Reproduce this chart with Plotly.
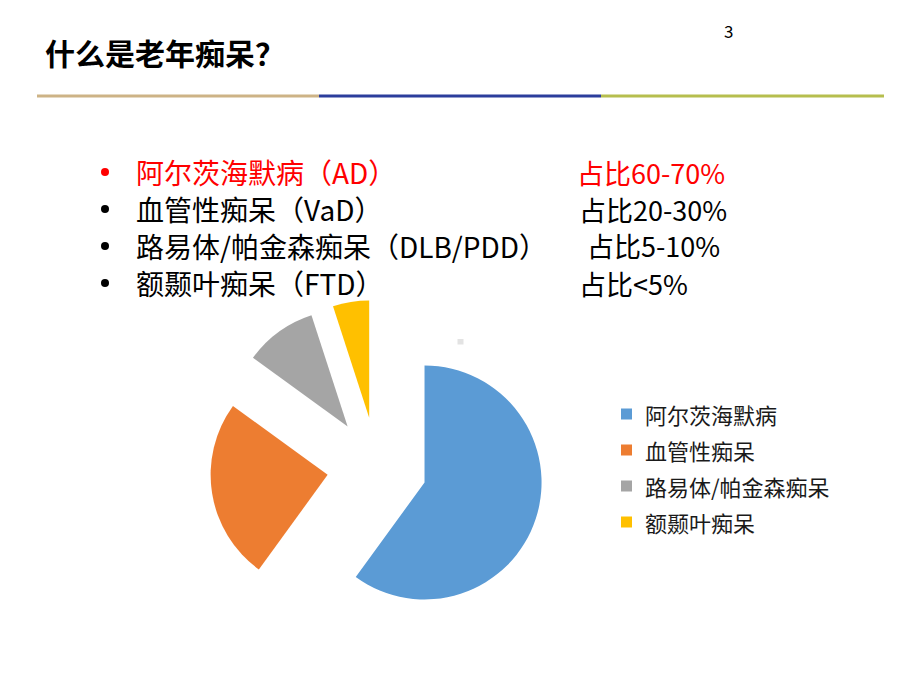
import plotly.graph_objects as go

W, H = 920, 690
OFF = 8  # page body margin in the browser

# Data
labels = ["阿尔茨海默病", "血管性痴呆", "路易体/帕金森痴呆", "额颞叶痴呆"]
values = [60, 25, 10, 5]
colors = ["#5B9BD5", "#ED7D31", "#A5A5A5", "#FFC000"]

title_text = "什么是老年痴呆？"
page_no = "3"
bullet_names = ["阿尔茨海默病（AD）", "血管性痴呆（VaD）", "路易体/帕金森痴呆（DLB/PDD）", "额颞叶痴呆（FTD）"]
bullet_shares = ["占比60-70%", "占比20-30%", "占比5-10%", "占比<5%"]
bullet_colors = ["#FF0000", "#000000", "#000000", "#000000"]

FONT = "Noto Sans CJK SC"


def px(x):
    return (x - OFF) / W


def py(y):
    return 1 - (y - OFF) / H


fig = go.Figure()

fig.add_trace(go.Pie(
    labels=labels,
    values=values,
    marker=dict(colors=colors, line=dict(width=0)),
    sort=False,
    direction="clockwise",
    rotation=0,
    pull=[0.427] * 4,
    textinfo="none",
    hoverinfo="label+percent",
    showlegend=False,
    domain=dict(x=[px(210), px(544)], y=[py(634), py(300)]),
))

annotations = []
shapes = []

# Title and page number
annotations.append(dict(x=px(43), y=py(52), xref="paper", yref="paper", text="<b>" + title_text + "</b>",
                        showarrow=False, xanchor="left", yanchor="middle",
                        font=dict(family=FONT, size=30, color="#000000")))
annotations.append(dict(x=px(728), y=py(31), xref="paper", yref="paper", text=page_no,
                        showarrow=False, xanchor="center", yanchor="middle",
                        font=dict(family=FONT, size=17, color="#000000")))

# Divider line segments
seg_colors = ["#CDB386", "#2B3D9C", "#B6BE4E"]
seg_x = [37, 319, 601, 884]
for i, c in enumerate(seg_colors):
    shapes.append(dict(type="line", xref="paper", yref="paper",
                       x0=px(seg_x[i]), x1=px(seg_x[i + 1]), y0=py(96), y1=py(96),
                       line=dict(color=c, width=3)))

# Bullet list
row_y = [172, 209, 246, 283]
share_x = [575, 577, 585, 577]
for i in range(4):
    shapes.append(dict(type="circle", xref="paper", yref="paper",
                       x0=px(101), x1=px(109), y0=py(row_y[i] - 4), y1=py(row_y[i] + 4),
                       fillcolor=bullet_colors[i], line=dict(width=0)))
    annotations.append(dict(x=px(134), y=py(row_y[i]), xref="paper", yref="paper", text=bullet_names[i],
                            showarrow=False, xanchor="left", yanchor="middle",
                            font=dict(family=FONT, size=28, color=bullet_colors[i])))
    annotations.append(dict(x=px(share_x[i]), y=py(row_y[i]), xref="paper", yref="paper", text=bullet_shares[i],
                            showarrow=False, xanchor="left", yanchor="middle",
                            font=dict(family=FONT, size=27, color=bullet_colors[i])))

# Legend (drawn manually to match spacing)
leg_y = [414, 450, 486, 522]
for i in range(4):
    shapes.append(dict(type="rect", xref="paper", yref="paper",
                       x0=px(621), x1=px(632), y0=py(leg_y[i] - 5.5), y1=py(leg_y[i] + 5.5),
                       fillcolor=colors[i], line=dict(width=0)))
    annotations.append(dict(x=px(643), y=py(leg_y[i]), xref="paper", yref="paper", text=labels[i],
                            showarrow=False, xanchor="left", yanchor="middle",
                            font=dict(family=FONT, size=22, color="#1A1A1A")))

# small grey mark
shapes.append(dict(type="rect", xref="paper", yref="paper",
                   x0=px(457.5), x1=px(463.5), y0=py(344.5), y1=py(339),
                   fillcolor="#E3E3E3", line=dict(width=0)))

fig.update_layout(
    width=W, height=H,
    margin=dict(l=0, r=0, t=0, b=0),
    paper_bgcolor="white",
    plot_bgcolor="white",
    annotations=annotations,
    shapes=shapes,
    showlegend=False,
)

fig.write_html("out.html")
